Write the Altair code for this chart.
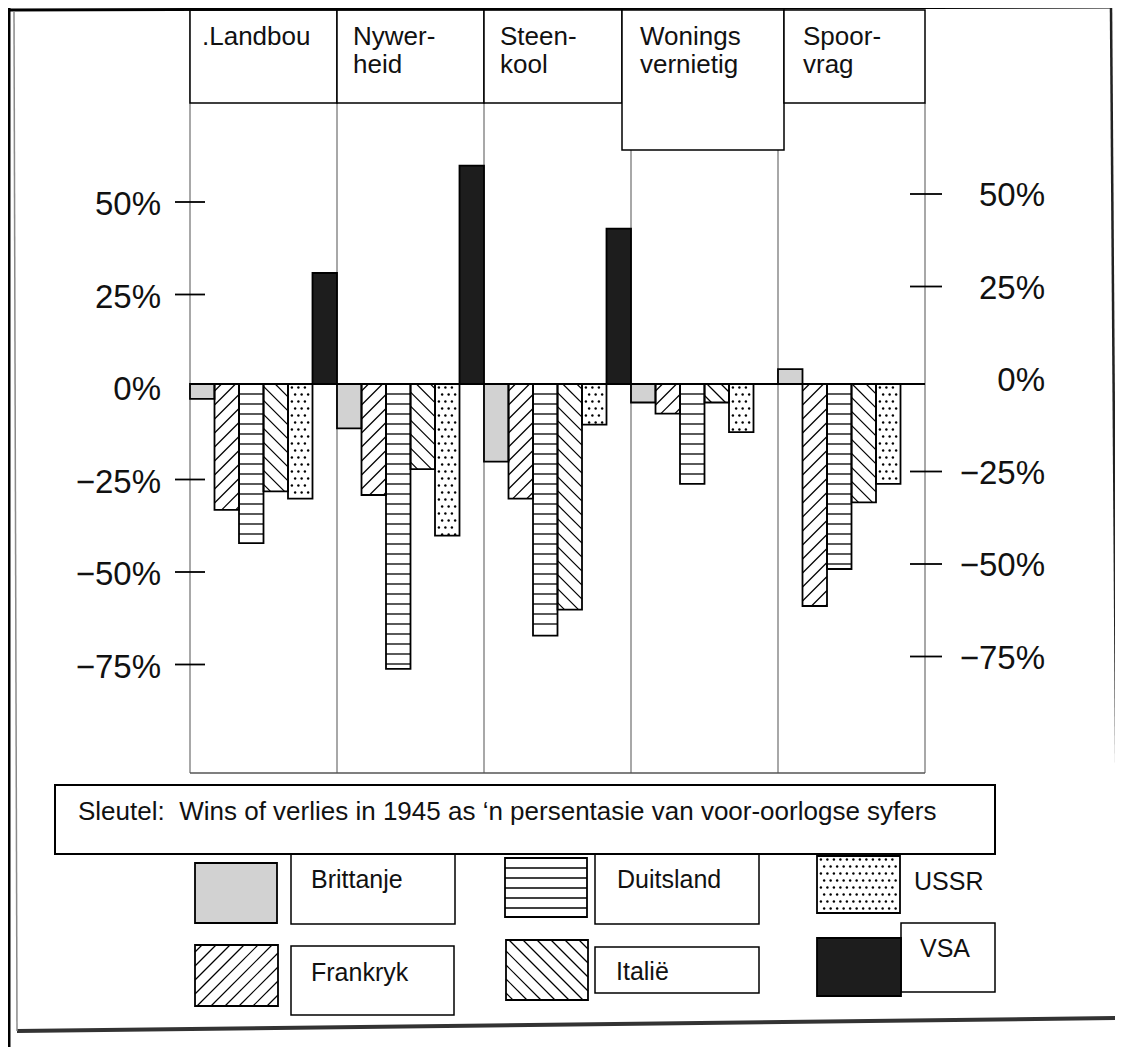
import altair as alt
import pandas as pd

# ---------------- data ----------------
PANELS = ["Landbou", "Nywerheid", "Steenkool", "Woningsvernietig", "Spoorvrag"]
HEADER_LINES = [[".Landbou"], ["Nywer-", "heid"], ["Steen-", "kool"],
                ["Wonings", "vernietig"], ["Spoor-", "vrag"]]
COUNTRIES = ["Brittanje", "Frankryk", "Duitsland", "Italië", "USSR", "VSA"]
BRITTANJE = [-4, -12, -21, -5, 4]
FRANKRYK = [-34, -30, -31, -8, -60]
DUITSLAND = [-43, -77, -68, -27, -50]
ITALIE = [-29, -23, -61, -5, -32]
USSR = [-31, -41, -11, -13, -27]
VSA = [30, 59, 42, 0, 0]
TICK_VALUES = [50, 25, 0, -25, -50, -75]
TICK_LABELS = ["50%", "25%", "0%", "\u221225%", "\u221250%", "\u221275%"]
KEY_TITLE = "Sleutel:\u00a0 Wins of verlies in 1945 as \u2018n persentasie van voor-oorlogse syfers"

# ---------------- layout (page pixels) ----------------
W, H = 1107, 1039
PX0, UX, PY0, UY = 190.0, 24.5, 384.0, 3.7   # x of first panel, px per bar, y of 0%, px per %
FONT = "Liberation Sans"
INK = "#111111"


def ux(px):
    return (px - PX0) / UX


def vy(py):
    return (PY0 - py) / UY


XS = alt.Scale(domain=[ux(8), ux(8 + W)], nice=False, zero=False)
YS = alt.Scale(domain=[vy(8 + H), vy(8)], nice=False, zero=False)


def X(f):
    return alt.X(f, type="quantitative", scale=XS, axis=None)


def Y(f):
    return alt.Y(f, type="quantitative", scale=YS, axis=None)


FILLS = ["#d2d2d2", "white", "white", "white", "white", "#1d1d1d"]
K = UX / UY          # 45 degree slope in data units
SD = 14 / UY         # diagonal hatch spacing
HS = 10 / UY         # horizontal stripe spacing
DS = 7 / UY          # dot row spacing
DX = 6.5 / UX        # dot column spacing


def pattern_layers(base):
    fill = base.mark_rect(strokeWidth=0).encode(
        x=X("x0"), x2=alt.X2("x1"), y=Y("lo"), y2=alt.Y2("hi"),
        fill=alt.Fill("country:N", scale=alt.Scale(domain=COUNTRIES, range=FILLS), legend=None))
    hstripes = (base.transform_filter("datum.country == 'Duitsland'")
                .transform_calculate(ys=f"sequence(datum.hi - {HS}, datum.lo + {HS * 0.3}, -{HS})")
                .transform_flatten(["ys"])
                .mark_rule(color="black", strokeWidth=1.3)
                .encode(x=X("x0"), x2=alt.X2("x1"), y=Y("ys")))
    fwd = (base.transform_filter("datum.country == 'Frankryk'")
           .transform_calculate(w="datum.x1 - datum.x0")
           .transform_calculate(ts=f"sequence(datum.hi - {SD / 2}, datum.lo - {K}*datum.w, -{SD})")
           .transform_flatten(["ts"])
           .transform_calculate(s0=f"max(0, (datum.lo - datum.ts)/{K})")
           .transform_calculate(s1=f"min(datum.w, (datum.hi - datum.ts)/{K})")
           .transform_filter("datum.s1 > datum.s0")
           .transform_calculate(xa="datum.x0 + datum.s0", xb="datum.x0 + datum.s1",
                                ya=f"datum.ts + {K}*datum.s0", yb=f"datum.ts + {K}*datum.s1")
           .mark_rule(color="black", strokeWidth=1.2)
           .encode(x=X("xa"), x2=alt.X2("xb"), y=Y("ya"), y2=alt.Y2("yb")))
    bwd = (base.transform_filter("datum.country == 'Italië'")
           .transform_calculate(w="datum.x1 - datum.x0")
           .transform_calculate(ts=f"sequence(datum.lo + {SD / 2}, datum.hi + {K}*datum.w, {SD})")
           .transform_flatten(["ts"])
           .transform_calculate(s0=f"max(0, (datum.ts - datum.hi)/{K})")
           .transform_calculate(s1=f"min(datum.w, (datum.ts - datum.lo)/{K})")
           .transform_filter("datum.s1 > datum.s0")
           .transform_calculate(xa="datum.x0 + datum.s0", xb="datum.x0 + datum.s1",
                                ya=f"datum.ts - {K}*datum.s0", yb=f"datum.ts - {K}*datum.s1")
           .mark_rule(color="black", strokeWidth=1.2)
           .encode(x=X("xa"), x2=alt.X2("xb"), y=Y("ya"), y2=alt.Y2("yb")))
    dots = (base.transform_filter("datum.country == 'USSR'")
            .transform_calculate(ys=f"sequence(datum.hi - {DS / 2}, datum.lo, -{DS})")
            .transform_flatten(["ys"])
            .transform_calculate(par=f"round((datum.hi - datum.ys)/{DS} - 0.5) % 2")
            .transform_calculate(xs=f"sequence(datum.x0 + {DX * 0.6} + {DX / 2}*datum.par, datum.x1 - {DX * 0.3}, {DX})")
            .transform_flatten(["xs"])
            .mark_circle(size=6, color="black", opacity=1)
            .encode(x=X("xs"), y=Y("ys")))
    outline = base.mark_rect(fillOpacity=0, stroke="black", strokeWidth=1.8).encode(
        x=X("x0"), x2=alt.X2("x1"), y=Y("lo"), y2=alt.Y2("hi"))
    return [fill, hstripes, fwd, bwd, dots, outline]


# ---------------- bars ----------------
SERIES = dict(zip(COUNTRIES, [BRITTANJE, FRANKRYK, DUITSLAND, ITALIE, USSR, VSA]))
bars_df = pd.DataFrame([{"panel": p, "pi": pi, "country": c, "ci": ci, "value": SERIES[c][pi]}
                        for ci, c in enumerate(COUNTRIES) for pi, p in enumerate(PANELS)])
NB = len(COUNTRIES)
bars = (alt.Chart(bars_df)
        .transform_filter("datum.value != 0")
        .transform_calculate(x0=f"{NB}*datum.pi + datum.ci")
        .transform_calculate(x1="datum.x0 + 1", lo="min(datum.value, 0)", hi="max(datum.value, 0)"))

# ---------------- legend swatches (page px: left, right, top, bottom) ----------------
SW_BOXES = {
    "Brittanje": (195, 277, 863, 923),
    "Frankryk": (195, 278, 945, 1006),
    "Duitsland": (505, 587, 858, 917),
    "Italië": (506, 588, 940, 1000),
    "USSR": (817, 900, 856, 913),
    "VSA": (817, 901, 938, 996),
}
sw_df = pd.DataFrame([{"country": c, "x0": ux(l), "x1": ux(r), "lo": vy(b), "hi": vy(t)}
                      for c, (l, r, t, b) in SW_BOXES.items()])
swatches = alt.Chart(sw_df)

# ---------------- decorations ----------------
NP = len(PANELS)
panel_px = [PX0 + UX * NB * i for i in range(NP + 1)]
LINE_TOPS = [10, 103, 103, 150, 150, 103]


def rules_df(items):
    return pd.DataFrame([{"xa": ux(a), "ya": vy(b), "xb": ux(c), "yb": vy(d), "c": col, "w": w}
                         for (a, b, c, d, col, w) in items])


def rule_layer(df):
    return alt.Chart(df).mark_rule().encode(
        x=X("xa"), y=Y("ya"), x2=alt.X2("xb"), y2=alt.Y2("yb"),
        color=alt.Color("c:N", scale=None), strokeWidth=alt.StrokeWidth("w:Q", scale=None))


grid_items = [(px, top, px, 773, "#6e6e6e", 1.2) for px, top in zip(panel_px, LINE_TOPS)]
grid_items.append((panel_px[0], 773, panel_px[-1], 773, "#555555", 1.5))
grid = rule_layer(rules_df(grid_items))

baseline = rule_layer(rules_df([(panel_px[0], PY0, panel_px[-1], PY0, "black", 2)]))

frame = rule_layer(rules_df([
    (9, 8, 9, 1047, "black", 3),
    (9, 10, 1112, 7, "black", 3),
    (1111, 8, 1118, 1018, "#222222", 2.5),
    (17, 1031, 1118, 1018, "#333333", 4),
    (14, 12, 17, 1031, "#8a8a8a", 1.5),
]))


def rects_df(items):
    return pd.DataFrame([{"x0": ux(l), "x1": ux(r), "lo": vy(b), "hi": vy(t)} for (l, r, t, b) in items])


def box_layer(df, sw=1.5):
    return alt.Chart(df).mark_rect(fill="white", stroke="black", strokeWidth=sw).encode(
        x=X("x0"), x2=alt.X2("x1"), y=Y("lo"), y2=alt.Y2("hi"))


head_edges = list(panel_px)
head_boxes = []
for i in range(NP):
    l, r, b = head_edges[i], head_edges[i + 1], 103
    if i == 3:
        l, r, b = head_edges[i] - 9, head_edges[i + 1] + 6, 150
    if i == 2:
        r = head_edges[i + 1] - 9
    if i == 4:
        l = head_edges[i] + 6
    head_boxes.append((l, r, 10, b))
header_boxes = box_layer(rects_df(head_boxes))

HEAD_PAD = [12, 16, 16, 18, 19]
head_text = pd.DataFrame([{"text": t, "x": ux(head_boxes[i][0] + HEAD_PAD[i]), "y": vy(45 + 28 * j)}
                          for i, lines in enumerate(HEADER_LINES) for j, t in enumerate(lines)])
header_text = alt.Chart(head_text).mark_text(
    align="left", baseline="alphabetic", font=FONT, fontSize=26, color=INK).encode(
    x=X("x"), y=Y("y"), text="text:N")

# axis ticks and labels
ticks_df = pd.DataFrame({"value": TICK_VALUES, "label": TICK_LABELS})
tick_marks = ticks_df[ticks_df.value != 0]
left_ticks = alt.Chart(tick_marks).mark_rule(color="black", strokeWidth=1.8, yOffset=3).encode(
    x=alt.value(175 - 8), x2=alt.value(205 - 8), y=Y("value"))
right_ticks = alt.Chart(tick_marks).mark_rule(color="black", strokeWidth=1.8, yOffset=-5).encode(
    x=alt.value(910 - 8), x2=alt.value(942 - 8), y=Y("value"))
left_labels = alt.Chart(ticks_df).mark_text(
    align="right", baseline="middle", font=FONT, fontSize=33, color=INK, dy=6).encode(
    x=alt.value(161 - 8), y=Y("value"), text="label:N")
right_labels = alt.Chart(ticks_df).mark_text(
    align="right", baseline="middle", font=FONT, fontSize=33, color=INK, dy=-3).encode(
    x=alt.value(1045 - 8), y=Y("value"), text="label:N")

# legend
label_boxes = box_layer(rects_df([
    (291, 455, 853, 924), (595, 759, 853, 924),
    (291, 454, 946, 1015), (595, 759, 947, 993), (901, 995, 923, 992)]))
key_box = box_layer(rects_df([(55, 995, 785, 854)]), sw=2)
key_text = alt.Chart(pd.DataFrame([{"text": KEY_TITLE, "x": ux(78), "y": vy(812)}])).mark_text(
    align="left", baseline="middle", font=FONT, fontSize=26, color=INK).encode(
    x=X("x"), y=Y("y"), text="text:N")
LEG_TEXT_POS = {"Brittanje": (311, 880), "Duitsland": (617, 880), "USSR": (914, 882),
                "Frankryk": (311, 973), "Italië": (616, 972), "VSA": (920, 949)}
leg_df = pd.DataFrame([{"text": c, "x": ux(LEG_TEXT_POS[c][0]), "y": vy(LEG_TEXT_POS[c][1])} for c in COUNTRIES])
leg_text = alt.Chart(leg_df).mark_text(
    align="left", baseline="middle", font=FONT, fontSize=25, color=INK).encode(
    x=X("x"), y=Y("y"), text="text:N")

layers = ([grid] + pattern_layers(bars) + [baseline, left_ticks, right_ticks, left_labels, right_labels,
                                          header_boxes, header_text, label_boxes, key_box, key_text]
          + pattern_layers(swatches) + [leg_text, frame])

chart = (alt.layer(*layers)
         .properties(width=W, height=H, autosize=alt.AutoSizeParams(type="none"), padding=0,
                     background="white")
         .configure_view(stroke=None))

chart.save("out.html", embed_options={"renderer": "svg", "actions": False})
